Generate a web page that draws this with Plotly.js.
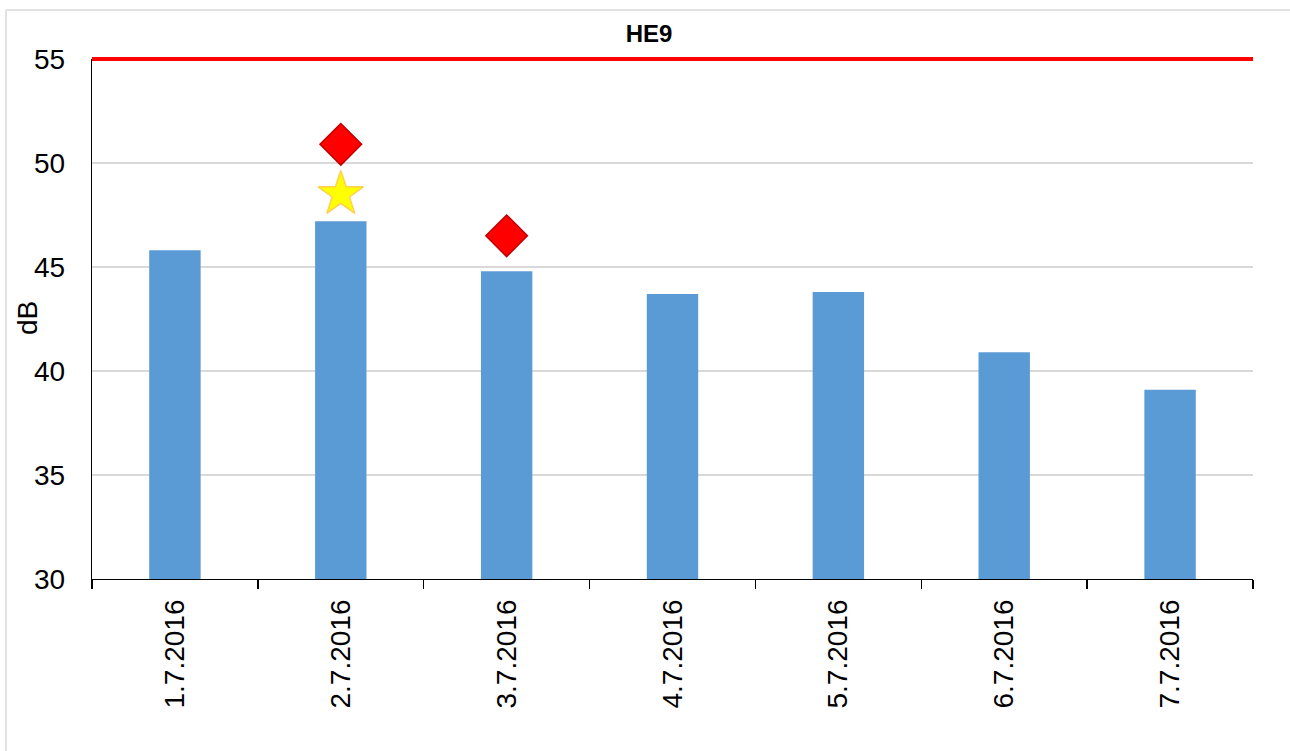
<!DOCTYPE html>
<html>
<head>
<meta charset="utf-8">
<script src="https://cdn.plot.ly/plotly-3.0.1.min.js"></script>
<style>
html,body{margin:0;padding:0;background:#fff;}
#chart{width:1290px;height:751px;}
</style>
</head>
<body>
<div id="chart"></div>
<script>
const categories = ["1.7.2016","2.7.2016","3.7.2016","4.7.2016","5.7.2016","6.7.2016","7.7.2016"];
const barValues = [45.8, 47.2, 44.8, 43.7, 43.8, 40.9, 39.1];
const diamondCats = ["2.7.2016","3.7.2016"];
const diamondValues = [50.9, 46.5];
const starCats = ["2.7.2016"];
const starValues = [48.5];
const limitValue = 55;
const yRange = [30, 55];
const yTicks = [30, 35, 40, 45, 50, 55];
const chartTitle = "HE9";
const yTitle = "dB";

const font = "Liberation Sans, Arial, sans-serif";

const traces = [
  {
    type: "bar", x: categories, y: barValues,
    marker: {color: "#5B9BD5"}, hoverinfo: "x+y", showlegend: false
  },
  {
    type: "scatter", mode: "markers", x: starCats, y: starValues,
    marker: {symbol: "star", size: 34, color: "#FFFF00", line: {color: "#FFD050", width: 1.5}},
    showlegend: false
  },
  {
    type: "scatter", mode: "markers", x: diamondCats, y: diamondValues,
    marker: {symbol: "diamond", size: 32, color: "#FF0000", line: {color: "#C00000", width: 1.5}},
    showlegend: false
  }
];

const limitPaper = (limitValue - yRange[0]) / (yRange[1] - yRange[0]);

const layout = {
  width: 1290, height: 751,
  margin: {l: 92, r: 37, t: 59, b: 172},
  paper_bgcolor: "#fff", plot_bgcolor: "#fff",
  showlegend: false,
  bargap: 0.69,
  title: {
    text: "<b>" + chartTitle + "</b>",
    font: {family: font, size: 24, color: "#000"},
    x: 649/1290, xanchor: "center", y: 1 - 34/751, yanchor: "middle"
  },
  xaxis: {
    type: "category",
    tickson: "boundaries",
    ticks: "outside", ticklen: 9, tickcolor: "#000", tickwidth: 1.3,
    showline: true, linecolor: "#000", linewidth: 1.3,
    showgrid: false,
    tickangle: -90,
    tickfont: {family: font, size: 28, color: "#000"},
    ticklabelstandoff: 8,
    automargin: false
  },
  yaxis: {
    range: yRange,
    tickvals: yTicks,
    ticks: "", showline: true, linecolor: "#000", linewidth: 1.3,
    showgrid: true, gridcolor: "#D9D9D9", gridwidth: 1.3,
    zeroline: false,
    tickfont: {family: font, size: 28, color: "#000"},
    ticklabelstandoff: 20,
    automargin: false
  },
  annotations: [
    {text: yTitle, xref: "paper", yref: "paper", x: (27-92)/1161, y: 1-(318-59)/520,
     xanchor: "center", yanchor: "middle", textangle: -90, showarrow: false,
     font: {family: font, size: 28, color: "#000"}}
  ],
  shapes: [
    {type: "line", xref: "paper", yref: "paper", x0: 0, x1: 1, y0: limitPaper, y1: limitPaper,
     line: {color: "#FF0000", width: 4}},
    {type: "line", xref: "paper", yref: "paper", x0: (6-92)/1161, x1: (1300-92)/1161,
     y0: 1 + (59-10)/520, y1: 1 + (59-10)/520, line: {color: "#D9D9D9", width: 1.5}},
    {type: "line", xref: "paper", yref: "paper", x0: (6-92)/1161, x1: (6-92)/1161,
     y0: 1 + (59-10)/520, y1: -0.5, line: {color: "#D9D9D9", width: 1.5}}
  ]
};

Plotly.newPlot("chart", traces, layout, {displayModeBar: false, staticPlot: true});
</script>
</body>
</html>
